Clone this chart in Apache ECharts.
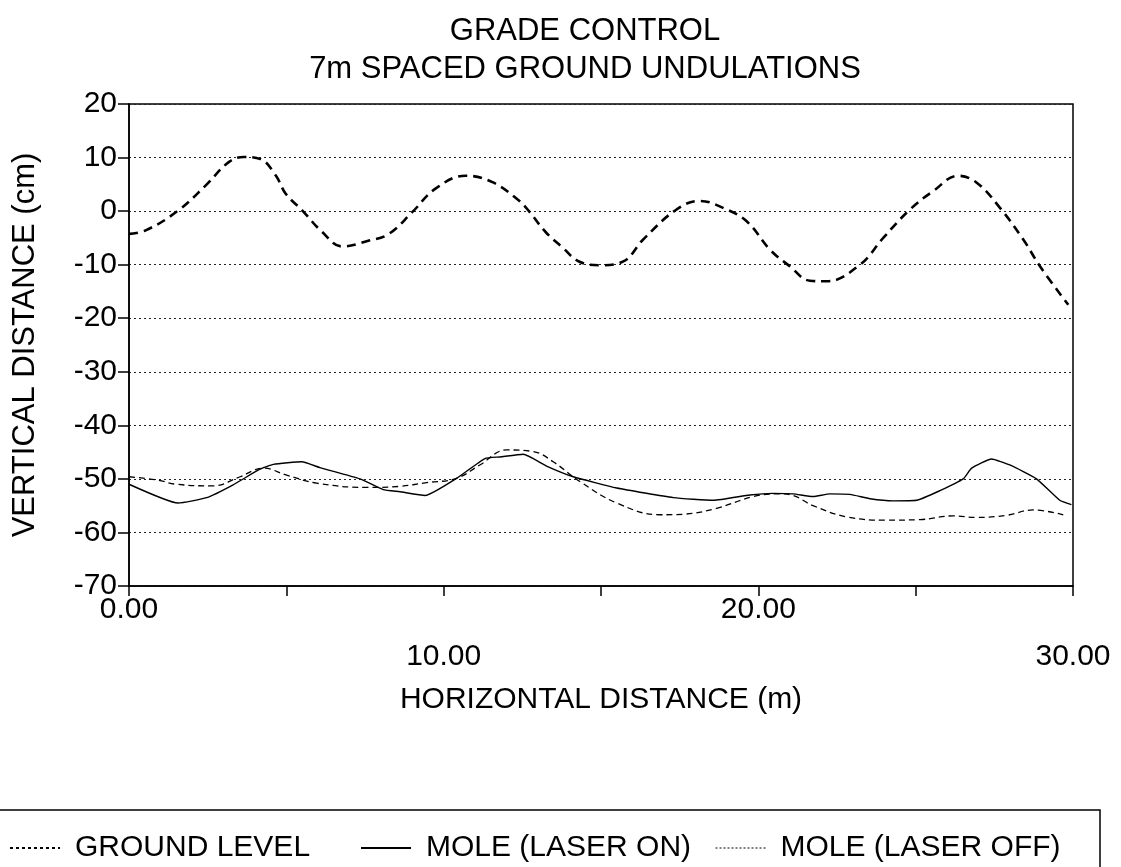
<!DOCTYPE html>
<html>
<head>
<meta charset="utf-8">
<title>Grade control</title>
<script src="https://cdn.jsdelivr.net/npm/echarts@6/dist/echarts.min.js"></script>
<style>
  html, body { margin: 0; padding: 0; background: #fff; }
  #chart { width: 1121px; height: 867px; }
</style>
</head>
<body>
<div id="chart"></div>
<script>
// values (x in m, y in cm)
var groundX = [0, 0.53, 1.54, 2.44, 3.18, 3.65, 4.18, 4.66, 4.98, 5.51, 6.14, 6.78, 7.63, 8.26, 9.0, 9.74, 10.7, 11.55, 12.39, 12.71, 13.24, 13.77, 14.3, 14.99, 15.71, 16.34, 17.4, 18.14, 18.88, 19.63, 20.37, 21.0, 21.64, 22.17, 23.23, 23.97, 24.82, 25.56, 26.35, 26.94, 27.68, 28.42, 28.95, 29.85]
var groundY = [-4.25, -3.6, 0, 4.8, 9.2, 10.1, 9.7, 6.7, 3.25, 0.1, -3.9, -6.6, -5.5, -4.25, -0.2, 4.2, 6.6, 5.4, 2.0, 0, -3.9, -6.75, -9.4, -10.1, -9.4, -5.3, 0.3, 1.9, 0.6, -1.9, -7.2, -10.3, -13.0, -13.1, -10.0, -5.0, 0.3, 3.75, 6.6, 5.3, 0.6, -5.3, -10.3, -17.5]

var laserOnX = [0, 1.56, 2.47, 3.31, 4.16, 4.59, 5.49, 6.07, 7.34, 8.08, 8.61, 9.41, 10.41, 11.31, 11.79, 12.53, 13.27, 14.12, 15.5, 17.3, 18.57, 19.73, 20.47, 21.11, 21.74, 22.28, 22.91, 23.55, 24.29, 25.03, 25.77, 26.51, 26.78, 27.41, 27.99, 28.84, 29.58, 29.95]
var laserOnY = [-51.0, -54.5, -53.5, -51.1, -48.2, -47.3, -46.8, -47.9, -50.0, -52.0, -52.4, -53.1, -49.9, -46.2, -45.9, -45.4, -47.6, -49.6, -51.7, -53.5, -54.0, -53.0, -52.7, -52.8, -53.3, -52.8, -52.9, -53.7, -54.1, -54.0, -52.2, -50.0, -48.0, -46.3, -47.4, -50.0, -54.0, -54.8]

var laserOffX = [0, 0.89, 1.5, 2.68, 3.53, 4.27, 5.01, 5.96, 7.55, 8.6, 9.46, 10.41, 11.15, 12.0, 12.85, 13.48, 14.33, 15.5, 16.87, 17.61, 18.67, 19.84, 20.69, 21.11, 21.74, 22.81, 24.08, 25.14, 26.19, 26.94, 27.89, 28.73, 29.69]
var laserOffY = [-49.6, -50.2, -51.0, -51.3, -49.6, -48.0, -49.3, -50.8, -51.6, -51.4, -50.7, -49.9, -47.4, -44.6, -44.9, -46.8, -50.5, -54.5, -56.7, -56.6, -55.5, -53.3, -52.8, -53.1, -55.0, -57.1, -57.7, -57.6, -56.9, -57.2, -56.8, -55.8, -56.7]

var seriesNames = ['GROUND LEVEL', 'MOLE (LASER ON)', 'MOLE (LASER OFF)']

function pairs(xs, ys) {
  return xs.map(function (x, i) { return [x, ys[i]] })
}

var font = 'Liberation Sans, Arial, Helvetica, sans-serif'
var chart = echarts.init(document.getElementById('chart'))

var option = {
  backgroundColor: '#fff',
  animation: false,
  textStyle: { fontFamily: font, color: '#000' },
  title: {
    text: 'GRADE CONTROL\n7m SPACED GROUND UNDULATIONS',
    left: 580,
    top: 7,
    textAlign: 'center',
    textStyle: { fontFamily: font, fontSize: 31, fontWeight: 'normal', color: '#000', lineHeight: 38 }
  },
  grid: {
    left: 129, right: 48, top: 104, bottom: 281,
    show: true, borderColor: '#000', borderWidth: 1.5
  },
  xAxis: {
    type: 'value',
    min: 0, max: 30, interval: 5,
    name: 'HORIZONTAL DISTANCE (m)',
    nameLocation: 'middle',
    nameGap: 96,
    nameTextStyle: { fontSize: 30, color: '#000' },
    axisLine: { onZero: false, lineStyle: { color: '#000', width: 1.5 } },
    axisTick: { length: 10, lineStyle: { color: '#000', width: 1.5 } },
    splitLine: { show: false },
    axisLabel: {
      fontSize: 30, color: '#000', margin: 0, lineHeight: 47,
      showMaxLabel: true, showMinLabel: true,
      formatter: function (v) {
        // labels alternate between two rows
        if (v % 20 === 0) return v.toFixed(2)
        if (v % 10 === 0) return '\n' + v.toFixed(2)
        return ''
      }
    }
  },
  yAxis: {
    type: 'value',
    min: -70, max: 20, interval: 10,
    name: 'VERTICAL DISTANCE (cm)',
    nameLocation: 'middle',
    nameRotate: 90,
    nameGap: 88,
    nameTextStyle: { fontSize: 31, color: '#000' },
    axisLine: { show: true, onZero: false, lineStyle: { color: '#000', width: 1.5 } },
    axisTick: { show: true, length: 11, lineStyle: { color: '#000', width: 1.5 } },
    axisLabel: { fontSize: 30, color: '#000', margin: 12 },
    splitLine: { lineStyle: { color: '#222', type: [2, 3], width: 1 } }
  },
  legend: [
    { data: [{ name: seriesNames[0], lineStyle: { type: [3, 3], width: 2 } }], left: 4 },
    { data: [{ name: seriesNames[1] }], left: 355 },
    { data: [{ name: seriesNames[2], lineStyle: { type: [2, 2], width: 1 } }], left: 710 }
  ].map(function (l) {
    l.top = 828
    l.itemWidth = 50
    l.itemHeight = 14
    l.selectedMode = false
    l.itemStyle = { opacity: 0, borderWidth: 0 }
    l.textStyle = { fontFamily: font, fontSize: 30, color: '#000', padding: [0, 0, 0, 10] }
    return l
  }),
  graphic: [{
    // legend frame runs off the bottom/left of the page
    type: 'rect',
    shape: { x: -5, y: 810, width: 1105, height: 120 },
    style: { fill: 'none', stroke: '#000', lineWidth: 1.5 },
    silent: true
  }],
  series: [
    {
      name: seriesNames[0],
      type: 'line',
      data: pairs(groundX, groundY),
      smooth: 0.4,
      symbol: 'none',
      lineStyle: { color: '#000', width: 2.6, type: [9, 6] },
      itemStyle: { color: '#000' }
    },
    {
      name: seriesNames[1],
      type: 'line',
      data: pairs(laserOnX, laserOnY),
      smooth: 0.15,
      symbol: 'none',
      lineStyle: { color: '#000', width: 1.4, type: 'solid' },
      itemStyle: { color: '#000' }
    },
    {
      name: seriesNames[2],
      type: 'line',
      data: pairs(laserOffX, laserOffY),
      smooth: 0.4,
      symbol: 'none',
      lineStyle: { color: '#000', width: 1.3, type: [6, 4] },
      itemStyle: { color: '#000' }
    }
  ]
}

chart.setOption(option)
</script>
</body>
</html>
